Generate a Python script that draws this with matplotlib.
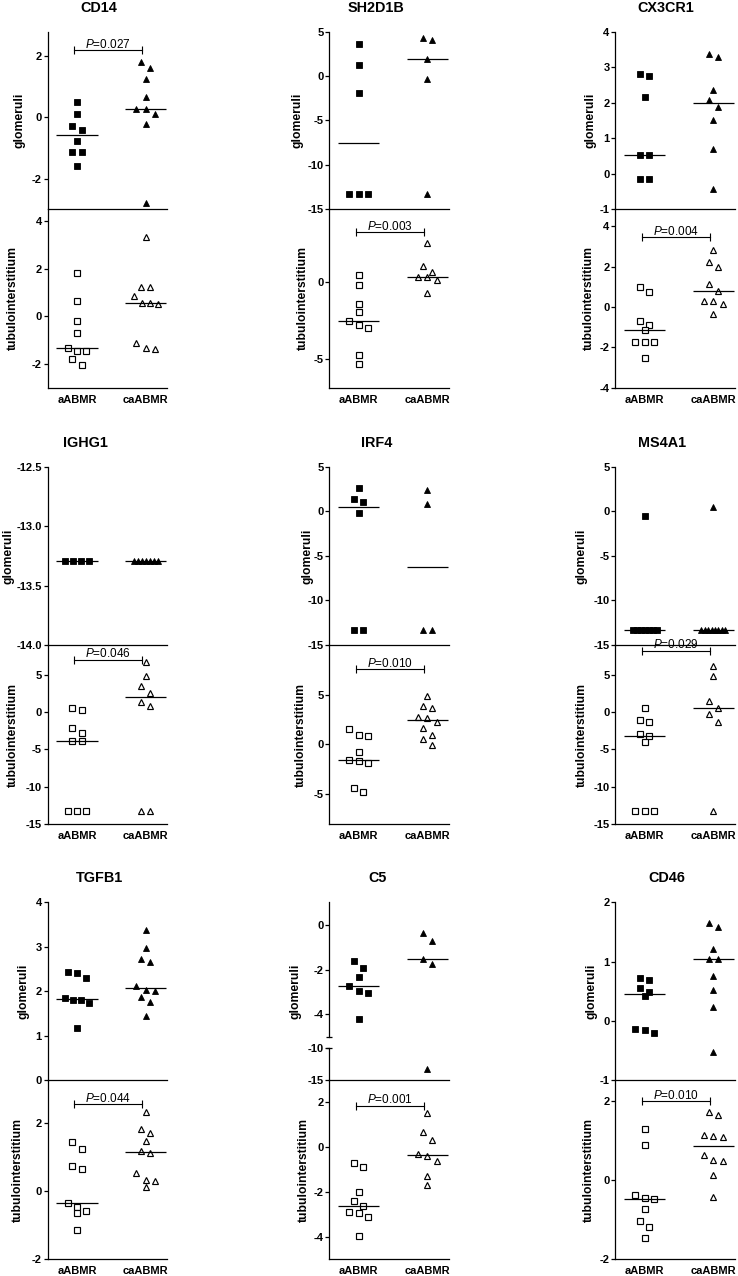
import numpy as np
import matplotlib
matplotlib.use("Agg")
import matplotlib.pyplot as plt

plt.rcParams['font.family'] = ['Liberation Sans', 'DejaVu Sans']
plt.rcParams['axes.unicode_minus'] = False
plt.rcParams['mathtext.fontset'] = 'custom'
plt.rcParams['mathtext.rm'] = 'Liberation Sans'
plt.rcParams['mathtext.it'] = 'Liberation Sans:italic'

# ---------------- data ----------------
genes = ['CD14', 'SH2D1B', 'CX3CR1', 'IGHG1', 'IRF4', 'MS4A1', 'TGFB1', 'C5', 'CD46']
groups = ['aABMR', 'caABMR']
p_labels = ['0.027', '0.003', '0.004', '0.046', '0.010', '0.029', '0.044', '0.001', '0.010']
glom_label = 'glomeruli'
tub_label = 'tubulointerstitium'

CD14_glom_a = [0.51, 0.12, -0.27, -0.40, -0.76, -1.14, -1.14, -1.58]
CD14_glom_ca = [1.80, 1.60, 1.24, 0.66, 0.26, 0.26, 0.12, -0.21, -2.81]
CD14_tub_a = [1.81, 0.63, -0.21, -0.70, -1.35, -1.46, -1.46, -1.78, -2.05]
CD14_tub_ca = [3.34, 1.25, 1.23, 0.86, 0.55, 0.54, 0.53, -1.11, -1.35, -1.36]

SH2D1B_glom_a = [3.64, 1.20, -1.88, -13.29, -13.29, -13.29]
SH2D1B_glom_ca = [4.32, 4.01, 1.88, -0.38, -13.29]
SH2D1B_tub_a = [0.50, -0.15, -1.40, -1.94, -2.55, -2.77, -2.99, -4.74, -5.33]
SH2D1B_tub_ca = [2.58, 1.05, 0.66, 0.35, 0.35, 0.17, -0.66]

CX3CR1_glom_a = [2.82, 2.75, 2.17, 0.52, 0.52, -0.14, -0.14]
CX3CR1_glom_ca = [3.37, 3.29, 2.37, 2.07, 1.89, 1.51, 0.71, -0.42]
CX3CR1_tub_a = [0.99, 0.74, -0.68, -0.91, -1.12, -1.73, -1.73, -1.73, -2.52]
CX3CR1_tub_ca = [2.84, 2.26, 2.01, 1.14, 0.81, 0.28, 0.28, 0.17, -0.35]

IGHG1_glom_a = [-13.29, -13.29, -13.29, -13.29]
IGHG1_glom_ca = [-13.29, -13.29, -13.29, -13.29, -13.29, -13.29, -13.29]
IGHG1_tub_a = [0.49, 0.22, -2.15, -2.82, -3.85, -3.85, -13.29, -13.29, -13.29]
IGHG1_tub_ca = [6.71, 4.79, 3.44, 2.60, 1.40, 0.76, -13.29, -13.29]

IRF4_glom_a = [2.58, 1.35, 1.05, -0.19, -13.29, -13.29]
IRF4_glom_ca = [2.40, 0.86, -13.29, -13.29]
IRF4_tub_a = [1.51, 1.00, 0.84, -0.74, -1.61, -1.68, -1.91, -4.36, -4.80]
IRF4_tub_ca = [4.83, 3.86, 3.62, 2.75, 2.68, 2.25, 1.68, 0.91, 0.50, -0.07]

MS4A1_glom_a = [-0.56, -13.29, -13.29, -13.29, -13.29, -13.29, -13.29, -13.29]
MS4A1_glom_ca = [0.52, -13.29, -13.29, -13.29, -13.29, -13.29, -13.29, -13.29, -13.29]
MS4A1_tub_a = [0.54, -1.03, -1.39, -2.95, -3.18, -4.07, -13.29, -13.29, -13.29]
MS4A1_tub_ca = [6.22, 4.87, 1.52, 0.54, -0.30, -1.34, -13.29]

TGFB1_glom_a = [2.43, 2.40, 2.29, 1.85, 1.81, 1.79, 1.73, 1.16]
TGFB1_glom_ca = [3.38, 2.98, 2.72, 2.66, 2.12, 2.03, 2.01, 1.86, 1.75, 1.43]
TGFB1_tub_a = [1.42, 1.24, 0.72, 0.63, -0.37, -0.47, -0.60, -0.64, -1.15]
TGFB1_tub_ca = [2.31, 1.80, 1.70, 1.45, 1.17, 1.12, 0.51, 0.31, 0.29, 0.12]

C5_glom_a = [-1.61, -1.94, -2.33, -2.75, -2.96, -3.05, -4.21]
C5_glom_ca = [-0.38, -0.72, -1.55, -1.76, -13.29]
C5_tub_a = [-0.69, -0.87, -2.00, -2.43, -2.63, -2.90, -2.93, -3.12, -3.97]
C5_tub_ca = [1.52, 0.66, 0.31, -0.30, -0.39, -0.64, -1.31, -1.69]

CD46_glom_a = [0.73, 0.68, 0.56, 0.49, 0.41, -0.14, -0.16, -0.21]
CD46_glom_ca = [1.65, 1.58, 1.21, 1.05, 1.05, 0.75, 0.52, 0.23, -0.52]
CD46_tub_a = [1.29, 0.88, -0.39, -0.45, -0.49, -0.73, -1.04, -1.18, -1.46]
CD46_tub_ca = [1.71, 1.63, 1.13, 1.11, 1.08, 0.63, 0.49, 0.48, 0.13, -0.44]

# axis scales / ticks
top_ylims = [(-3, 2.8), (-15, 5), (-1, 4), (-14, -12.5), (-15, 5), (-15, 5), (0, 4), None, (-1, 2)]
top_ticks = [[-2, 0, 2], [-15, -10, -5, 0, 5], [-1, 0, 1, 2, 3, 4], [-14, -13.5, -13, -12.5],
             [-15, -10, -5, 0, 5], [-15, -10, -5, 0, 5], [0, 1, 2, 3, 4], None, [-1, 0, 1, 2]]
C5_upper_ylim = (-5, 1)
C5_upper_ticks = [-4, -2, 0]
C5_lower_ylim = (-15, -10)
C5_lower_ticks = [-15, -10]
bot_ylims = [(-3, 4.5), (-6.9, 4.8), (-4, 4.85), (-15, 9), (-8, 10), (-15, 9), (-2, 3.25), (-5, 3), (-2, 2.52)]
bot_ticks = [[-2, 0, 2, 4], [-5, 0], [-4, -2, 0, 2, 4], [-15, -10, -5, 0, 5], [-5, 0, 5],
             [-15, -10, -5, 0, 5], [-2, 0, 2], [-4, -2, 0, 2], [-2, 0, 2]]
p_in_top = [True, False, False, False, False, False, False, False, False]
p_level = [2.2, 3.3, 3.47, 7.0, 7.58, 8.2, 2.54, 1.85, 1.98]

# ---------------- layout (pixels) ----------------
W, H = 738, 1276
col_x = [47.7, 329.3, 615.3]
ax_w = 119.3
rows_px = [(31.7, 209.3, 387.7), (466.7, 645.0, 824.0), (902.3, 1080.0, 1259.0)]
title_y = [8.3, 443.3, 877.7]
title_dx = [51.3, 47, 50.7, 37.3, 47.7, 47, 52, 48.4, 51.4]
glab_dx = [-27.7, -31.6, -25, -39.4, -21.6, -33.3, -24.4, -33.3, -23.3]
tlab_dx = [-34.4, -26.6, -26.6, -34.4, -28.3, -33.3, -29.4, -25, -26.6]
C5_upper_bottom_px = 1036.7
C5_lower_top_px = 1048.3

CAT_PX = 68.7
XLIM = (-29.3 / CAT_PX, (ax_w - 29.3) / CAT_PX)
LW = 0.9
TICK_FS = 8
LAB_FS = 8.7
TITLE_FS = 10.4
SQ_MS = 4.2
TRI_MS = 4.8

fig = plt.figure(figsize=(W / 100, H / 100), dpi=100)


def add_ax(x0, ytop, ybot):
    return fig.add_axes([x0 / W, 1 - ybot / H, ax_w / W, (ybot - ytop) / H])


def style(ax, ylim, ticks, fmt, show_bottom=True, xlabels=False):
    ax.set_xlim(*XLIM)
    ax.set_ylim(*ylim)
    ax.patch.set_alpha(0)
    for s in ('top', 'right'):
        ax.spines[s].set_visible(False)
    ax.spines['bottom'].set_visible(show_bottom)
    ax.spines['left'].set_linewidth(LW)
    ax.spines['bottom'].set_linewidth(LW)
    ax.set_yticks(ticks)
    ax.set_yticklabels([fmt.format(t) for t in ticks], fontsize=TICK_FS, fontweight='bold')
    ax.tick_params(axis='y', length=3, width=LW, pad=1.2, direction='out')
    if xlabels:
        ax.set_xticks([0, 1])
        ax.set_xticklabels(groups, fontsize=TICK_FS, fontweight='bold')
        ax.tick_params(axis='x', length=0, pad=5.0)
    else:
        ax.set_xticks([])


def offsets(vals, px_per_unit, thr=8.0, step=9.3 / CAT_PX, maxspread=24.0 / CAT_PX):
    vals = np.asarray(vals, float)
    order = np.argsort(-vals, kind='stable')
    offs = np.zeros(len(vals))
    i = 0
    while i < len(order):
        j = i + 1
        while j < len(order) and (vals[order[i]] - vals[order[j]]) * px_per_unit < thr:
            j += 1
        n = j - i
        s = step if n < 2 else min(step, maxspread / (n - 1))
        for k in range(n):
            offs[order[i + k]] = (k - (n - 1) / 2) * s
        i = j
    return offs


def draw_group(axes_list, ppu_list, vals, cat, marker, filled):
    """axes_list: list of (ax, ylim); points go to the axis whose ylim contains the value."""
    vals = np.asarray(vals, float)

    def which(v):
        for k, (ax, yl) in enumerate(axes_list):
            if yl[0] - 1e-9 <= v <= yl[1] + 1e-9:
                return k
        return 0
    idx = np.array([which(v) for v in vals])
    offs = np.zeros(len(vals))
    for k in range(len(axes_list)):
        m = idx == k
        if m.any():
            offs[m] = offsets(vals[m], ppu_list[k])
    ms = SQ_MS if marker == 's' else TRI_MS
    for k, (ax, yl) in enumerate(axes_list):
        m = idx == k
        if not m.any():
            continue
        ax.plot(cat + offs[m], vals[m], ls='none', marker=marker, ms=ms,
                mfc='black' if filled else 'white', mec='black',
                mew=0.6 if filled else 0.85, clip_on=False, zorder=3)
    med = float(np.median(vals))
    ax_m = axes_list[which(med)][0]
    ax_m.plot([cat - 0.3, cat + 0.3], [med, med], color='black', lw=LW, zorder=4,
              solid_capstyle='butt')


def draw_p(ax, y, label):
    x0, x1 = -0.04, 0.95
    ax.plot([x0, x1], [y, y], color='black', lw=LW * 0.9, zorder=5, clip_on=False)
    ax.plot([x0, x1], [y, y], ls='none', marker='|', ms=5.2, mew=LW * 0.9,
            color='black', zorder=5, clip_on=False)
    ax.annotate(r'$\mathit{P}$=' + label, xy=((x0 + x1) / 2, y), xytext=(0, 1.8),
                textcoords='offset points', ha='center', va='baseline',
                fontsize=8.5, zorder=6)


for i, g in enumerate(genes):
    col, row = i % 3, i // 3
    x0 = col_x[col]
    ytop, ysep, ybot = rows_px[row]
    ga = globals()[g + '_glom_a']
    gc = globals()[g + '_glom_ca']
    ta = globals()[g + '_tub_a']
    tc = globals()[g + '_tub_ca']
    fmt_top = '{:.1f}' if g == 'IGHG1' else '{:g}'
    fmt_bot = '{:g}'

    # top (glomeruli)
    if top_ylims[i] is None:
        axA = add_ax(x0, ytop, C5_upper_bottom_px)
        style(axA, C5_upper_ylim, C5_upper_ticks, fmt_top, show_bottom=False)
        axB = add_ax(x0, C5_lower_top_px, ysep)
        style(axB, C5_lower_ylim, C5_lower_ticks, fmt_top, show_bottom=True)
        for ax_, yv in ((axA, C5_upper_ylim[0]), (axB, C5_lower_ylim[1])):
            ax_.plot([0], [yv], marker='_', ms=4.2, mew=LW, color='black', clip_on=False,
                     transform=ax_.get_yaxis_transform(), zorder=5)
        top_list = [(axA, C5_upper_ylim), (axB, C5_lower_ylim)]
        ppu = [(C5_upper_bottom_px - ytop) / (C5_upper_ylim[1] - C5_upper_ylim[0]),
               (ysep - C5_lower_top_px) / (C5_lower_ylim[1] - C5_lower_ylim[0])]
        top_main = axA
    else:
        axT = add_ax(x0, ytop, ysep)
        style(axT, top_ylims[i], top_ticks[i], fmt_top, show_bottom=True)
        top_list = [(axT, top_ylims[i])]
        ppu = [(ysep - ytop) / (top_ylims[i][1] - top_ylims[i][0])]
        top_main = axT

    draw_group(top_list, ppu, ga, 0, 's', True)
    draw_group(top_list, ppu, gc, 1, '^', True)

    # bottom (tubulointerstitium)
    axBt = add_ax(x0, ysep, ybot)
    style(axBt, bot_ylims[i], bot_ticks[i], fmt_bot, show_bottom=True, xlabels=True)
    ppu_b = [(ybot - ysep) / (bot_ylims[i][1] - bot_ylims[i][0])]
    draw_group([(axBt, bot_ylims[i])], ppu_b, ta, 0, 's', False)
    draw_group([(axBt, bot_ylims[i])], ppu_b, tc, 1, '^', False)

    if p_in_top[i]:
        draw_p(top_main, p_level[i], p_labels[i])
    else:
        draw_p(axBt, p_level[i], p_labels[i])

    # title and axis labels
    fig.text((x0 + title_dx[i]) / W, 1 - title_y[row] / H, g, ha='center', va='center',
             fontsize=TITLE_FS, fontweight='bold')
    fig.text((x0 + glab_dx[i]) / W, 1 - (ytop + ysep) / 2 / H, glom_label, rotation=90,
             ha='center', va='center', fontsize=LAB_FS, fontweight='bold')
    fig.text((x0 + tlab_dx[i]) / W, 1 - (ysep + ybot) / 2 / H, tub_label, rotation=90,
             ha='center', va='center', fontsize=LAB_FS, fontweight='bold')

fig.savefig('out.png', dpi=100)
